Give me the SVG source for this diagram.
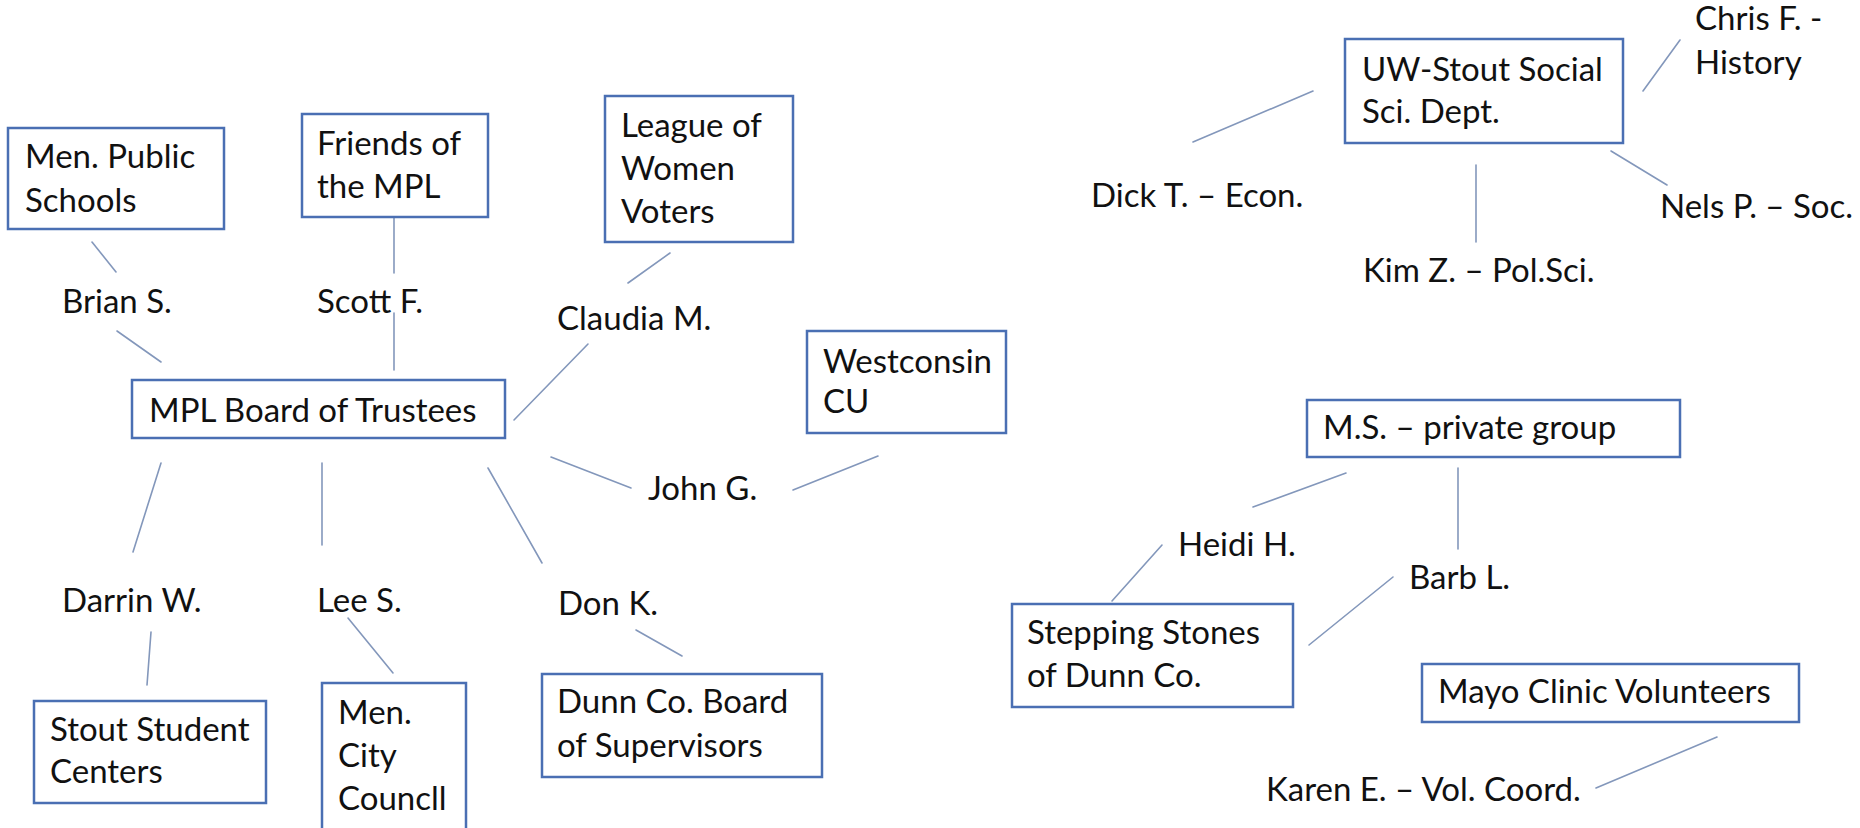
<svg xmlns="http://www.w3.org/2000/svg" width="1860" height="828" viewBox="0 0 1860 828">
<style>
.box rect{fill:#ffffff;stroke:#4a6fb3;stroke-width:2.5}
text{font-family:Lato,"Open Sans","Liberation Sans",sans-serif;font-size:33px;fill:#111111}
#connectors line{stroke:#8397bb;stroke-width:1.6;stroke-linecap:round}
</style>
<rect width="1860" height="828" fill="#ffffff"/>
<g id="connectors">
<line x1="92" y1="242" x2="116" y2="272"/>
<line x1="117" y1="331" x2="161" y2="362"/>
<line x1="394" y1="217" x2="394" y2="273"/>
<line x1="394" y1="313" x2="394" y2="370"/>
<line x1="670" y1="253" x2="628" y2="283"/>
<line x1="588" y1="344" x2="514" y2="420"/>
<line x1="551" y1="457" x2="631" y2="488"/>
<line x1="878" y1="456" x2="793" y2="490"/>
<line x1="161" y1="463" x2="133" y2="552"/>
<line x1="322" y1="463" x2="322" y2="545"/>
<line x1="488" y1="468" x2="542" y2="563"/>
<line x1="151" y1="632" x2="147" y2="685"/>
<line x1="348" y1="618" x2="393" y2="673"/>
<line x1="636" y1="630" x2="682" y2="656"/>
<line x1="1313" y1="91" x2="1193" y2="142"/>
<line x1="1680" y1="40" x2="1643" y2="91"/>
<line x1="1611" y1="151" x2="1667" y2="185"/>
<line x1="1476" y1="165" x2="1476" y2="242"/>
<line x1="1346" y1="473" x2="1253" y2="507"/>
<line x1="1458" y1="468" x2="1458" y2="549"/>
<line x1="1162" y1="545" x2="1112" y2="601"/>
<line x1="1393" y1="577" x2="1309" y2="645"/>
<line x1="1717" y1="737" x2="1596" y2="788"/>
</g>
<g id="men-public-schools" class="box"><rect x="8" y="128" width="216" height="101"/><text x="25" y="168">Men. Public</text><text x="25" y="212">Schools</text></g>
<g id="friends-mpl" class="box"><rect x="302" y="114" width="186" height="103"/><text x="317" y="155">Friends of</text><text x="317" y="198">the MPL</text></g>
<g id="league-women-voters" class="box"><rect x="605" y="96" width="188" height="146"/><text x="621" y="137">League of</text><text x="621" y="180">Women</text><text x="621" y="223">Voters</text></g>
<g id="mpl-board" class="box"><rect x="132" y="380" width="373" height="58"/><text x="149" y="422">MPL Board of Trustees</text></g>
<g id="westconsin-cu" class="box"><rect x="807" y="331" width="199" height="102"/><text x="823" y="373">Westconsin</text><text x="823" y="413">CU</text></g>
<g id="stout-student-centers" class="box"><rect x="34" y="701" width="232" height="102"/><text x="50" y="741">Stout Student</text><text x="50" y="783">Centers</text></g>
<g id="men-city-council" class="box"><rect x="322" y="683" width="144" height="170"/><text x="338" y="724">Men.</text><text x="338" y="767">City</text><text x="338" y="810">Councll</text></g>
<g id="dunn-co-board" class="box"><rect x="542" y="674" width="280" height="103"/><text x="557" y="713">Dunn Co. Board</text><text x="557" y="757">of Supervisors</text></g>
<g id="uw-stout-social-sci" class="box"><rect x="1345" y="39" width="278" height="104"/><text x="1362" y="81">UW-Stout Social</text><text x="1362" y="123">Sci. Dept.</text></g>
<g id="ms-private-group" class="box"><rect x="1307" y="400" width="373" height="57"/><text x="1323" y="439">M.S. – private group</text></g>
<g id="stepping-stones" class="box"><rect x="1012" y="604" width="281" height="103"/><text x="1027" y="644">Stepping Stones</text><text x="1027" y="687">of Dunn Co.</text></g>
<g id="mayo-clinic-volunteers" class="box"><rect x="1422" y="664" width="377" height="58"/><text x="1438" y="703">Mayo Clinic Volunteers</text></g>
<g id="brian-s"><text x="62" y="313">Brian S.</text></g>
<g id="scott-f"><text x="317" y="313">Scott F.</text></g>
<g id="claudia-m"><text x="557" y="330">Claudia M.</text></g>
<g id="john-g"><text x="648" y="500">John G.</text></g>
<g id="darrin-w"><text x="62" y="612">Darrin W.</text></g>
<g id="lee-s"><text x="317" y="612">Lee S.</text></g>
<g id="don-k"><text x="558" y="615">Don K.</text></g>
<g id="dick-t"><text x="1091" y="207">Dick T. – Econ.</text></g>
<g id="kim-z"><text x="1363" y="282">Kim Z. – Pol.Sci.</text></g>
<g id="nels-p"><text x="1660" y="218">Nels P. – Soc.</text></g>
<g id="chris-f"><text x="1695" y="30">Chris F. -</text><text x="1695" y="74">History</text></g>
<g id="heidi-h"><text x="1178" y="556">Heidi H.</text></g>
<g id="barb-l"><text x="1409" y="589">Barb L.</text></g>
<g id="karen-e"><text x="1266" y="801">Karen E. – Vol. Coord.</text></g>
</svg>
